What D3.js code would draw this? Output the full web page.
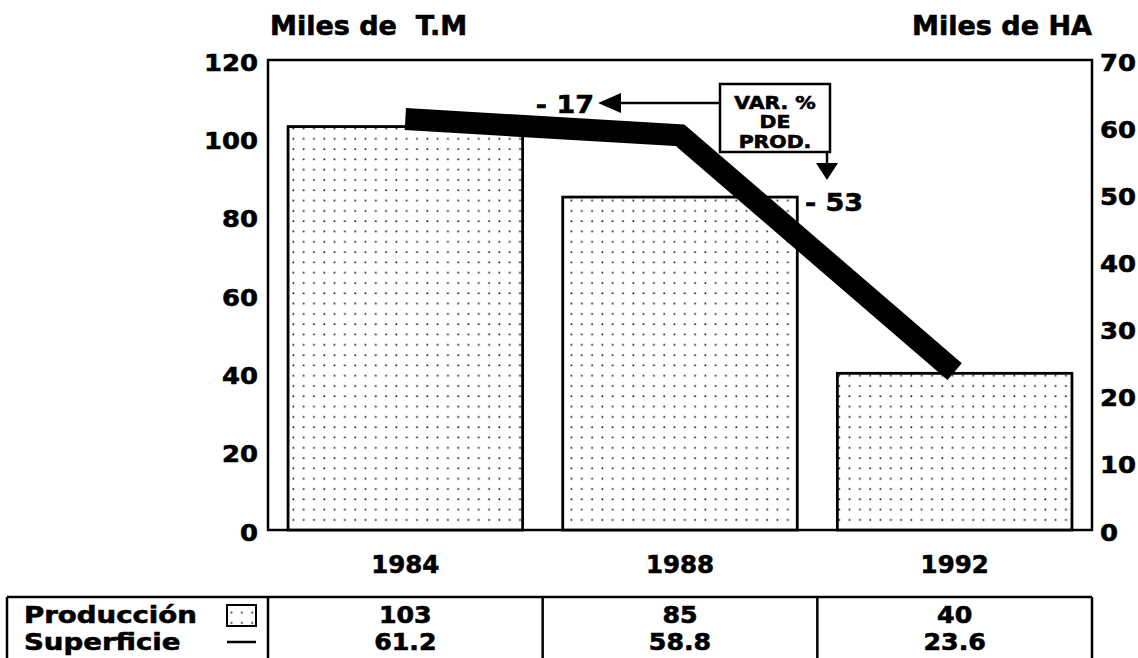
<!DOCTYPE html>
<html>
<head>
<meta charset="utf-8">
<script src="https://cdn.jsdelivr.net/npm/d3@7"></script>
<style>
  html, body { margin: 0; padding: 0; background: #fff; }
  svg text {
    font-family: "DejaVu Sans", Verdana, sans-serif; font-weight: bold; fill: #000;
    stroke: #000; stroke-width: 0.6px; paint-order: stroke;
  }
</style>
</head>
<body>
<svg id="chart" width="1138" height="658"></svg>
<script>
// Producción (miles de T.M) y superficie (miles de HA) por campaña
const years = ["1984", "1988", "1992"];
const produccion = [103, 85, 40];
const superficie = [61.2, 58.8, 23.6];
const leftTicks = [0, 20, 40, 60, 80, 100, 120];
const rightTicks = [0, 10, 20, 30, 40, 50, 60, 70];
const variaciones = ["- 17", "- 53"];
const rowLabels = ["Producción", "Superficie"];

const svg = d3.select("#chart");
const W = 1138, H = 658;
const plot = { left: 268, right: 1092, top: 60, bottom: 530 };

const x = d3.scaleBand()
  .domain(years)
  .range([plot.left, plot.right])
  .paddingInner(0.146)
  .paddingOuter(0.073);

const yLeft = d3.scaleLinear().domain([0, 120]).range([plot.bottom, plot.top]);
const yRight = d3.scaleLinear().domain([0, 70]).range([plot.bottom, plot.top]);

// text helper: wide lettering is obtained by stretching glyphs horizontally
function label(g, str, px, py, size, anchor, sx) {
  return g.append("text")
    .attr("transform", `translate(${px},${py}) scale(${sx},1)`)
    .attr("text-anchor", anchor)
    .attr("dominant-baseline", "central")
    .attr("font-size", size)
    .style("white-space", "pre")
    .text(str);
}

// dotted fill used for bars and legend swatch
const defs = svg.append("defs");
const pat = defs.append("pattern")
  .attr("id", "dots")
  .attr("patternUnits", "userSpaceOnUse")
  .attr("width", 10.3).attr("height", 10.3);
pat.append("rect").attr("width", 10.3).attr("height", 10.3).attr("fill", "#fff");
pat.append("circle").attr("cx", 5).attr("cy", 5).attr("r", 0.95).attr("fill", "#111");

// frame of the plot area
svg.append("rect")
  .attr("x", plot.left).attr("y", plot.top)
  .attr("width", plot.right - plot.left).attr("height", plot.bottom - plot.top)
  .attr("fill", "none").attr("stroke", "#000").attr("stroke-width", 2.5);

// bars
svg.append("g").selectAll("rect")
  .data(years)
  .join("rect")
  .attr("x", d => x(d))
  .attr("y", (d, i) => yLeft(produccion[i]))
  .attr("width", x.bandwidth())
  .attr("height", (d, i) => yLeft(0) - yLeft(produccion[i]))
  .attr("fill", "url(#dots)")
  .attr("stroke", "#000").attr("stroke-width", 2.8);

// axes
const tickStyle = (size, sx) => g => {
  g.select(".domain").remove();
  g.selectAll(".tick line").remove();
  g.selectAll(".tick text")
    .attr("font-size", size)
    .attr("font-family", null)
    .attr("fill", "#000")
    .attr("dy", null)
    .attr("dominant-baseline", "central")
    .attr("transform", `scale(${sx},1)`);
};

svg.append("g")
  .attr("transform", `translate(${plot.left - 10},2)`)
  .call(d3.axisLeft(yLeft).tickValues(leftTicks).tickSize(0).tickPadding(0))
  .call(tickStyle(23.5, 1.1));

svg.append("g")
  .attr("transform", `translate(${plot.right + 8},2)`)
  .call(d3.axisRight(yRight).tickValues(rightTicks).tickSize(0).tickPadding(0))
  .call(tickStyle(23.5, 1.1));

svg.append("g")
  .attr("transform", `translate(0,${plot.bottom + 35})`)
  .call(d3.axisBottom(x).tickSize(0).tickPadding(0))
  .call(tickStyle(24, 1.02));

// axis titles
label(svg, "Miles de  T.M", plot.left + 2, 26, 26, "start", 1.04);
label(svg, "Miles de HA", plot.right, 26, 26, "end", 1.04);

// superficie line
const line = d3.line()
  .x((d, i) => x(years[i]) + x.bandwidth() / 2)
  .y(d => yRight(d));

svg.append("path")
  .datum(superficie)
  .attr("d", line)
  .attr("fill", "none")
  .attr("stroke", "#000")
  .attr("stroke-width", 22)
  .attr("stroke-linejoin", "miter")
  .attr("stroke-linecap", "butt");

// annotation: percentage change of production
const ann = svg.append("g");
const box = { x: 720, y: 84, w: 110, h: 68 };
ann.append("rect")
  .attr("x", box.x).attr("y", box.y).attr("width", box.w).attr("height", box.h)
  .attr("fill", "#fff").attr("stroke", "#000").attr("stroke-width", 2.5);
["VAR. %", "DE", "PROD."].forEach((t, i) => {
  label(ann, t, box.x + box.w / 2, 103 + i * 19.5, 17, "middle", 1.2);
});
// left arrow
ann.append("line")
  .attr("x1", box.x).attr("y1", 103).attr("x2", 615).attr("y2", 103)
  .attr("stroke", "#000").attr("stroke-width", 2.5);
ann.append("path")
  .attr("d", "M598,103 L621,93 L621,113 Z").attr("fill", "#000");
label(ann, variaciones[0], 594, 104, 25, "end", 1.08);
// down arrow
ann.append("line")
  .attr("x1", 827).attr("y1", box.y + box.h).attr("x2", 827).attr("y2", 166)
  .attr("stroke", "#000").attr("stroke-width", 2.5);
ann.append("path")
  .attr("d", "M827,180 L816,163 L838,163 Z").attr("fill", "#000");
label(ann, variaciones[1], 805, 202, 25, "start", 1.08);

// data table below the chart
const table = svg.append("g");
const tTop = 597;
const rowY = [615, 642];
const colEdges = [7, plot.left].concat(years.map(y => x(y) + x.bandwidth() + x.step() * x.paddingInner() / 2));
colEdges[colEdges.length - 1] = plot.right;

table.append("line")
  .attr("x1", colEdges[0]).attr("x2", plot.right)
  .attr("y1", tTop).attr("y2", tTop)
  .attr("stroke", "#000").attr("stroke-width", 2.5);
colEdges.forEach(cx => {
  table.append("line")
    .attr("x1", cx).attr("x2", cx).attr("y1", tTop).attr("y2", H)
    .attr("stroke", "#000").attr("stroke-width", 2.5);
});

rowLabels.forEach((lab, r) => {
  label(table, lab, 24, rowY[r], 23, "start", 1.2);
});
// legend swatches
table.append("rect")
  .attr("x", 227).attr("y", rowY[0] - 10).attr("width", 29).attr("height", 21)
  .attr("fill", "url(#dots)").attr("stroke", "#000").attr("stroke-width", 2);
table.append("line")
  .attr("x1", 227).attr("x2", 256).attr("y1", rowY[1]).attr("y2", rowY[1])
  .attr("stroke", "#000").attr("stroke-width", 2.5);

[produccion.map(String), superficie.map(v => v.toFixed(1))].forEach((vals, r) => {
  years.forEach((yr, i) => {
    label(table, vals[i], x(yr) + x.bandwidth() / 2, rowY[r], 23, "middle", 1.1);
  });
});
</script>
</body>
</html>
